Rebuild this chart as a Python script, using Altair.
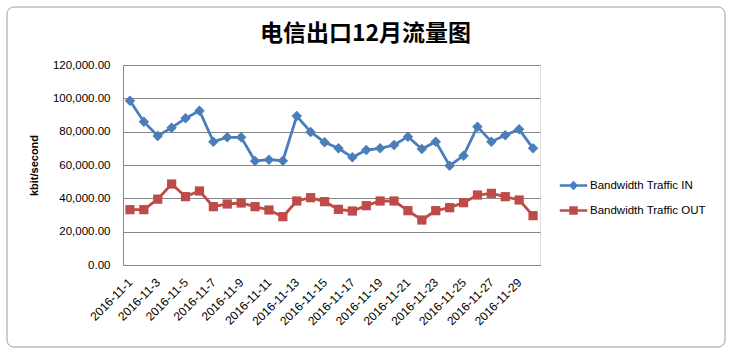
import altair as alt
import pandas as pd

dates = ["2016-11-1", "2016-11-2", "2016-11-3", "2016-11-4", "2016-11-5", "2016-11-6",
         "2016-11-7", "2016-11-8", "2016-11-9", "2016-11-10", "2016-11-11", "2016-11-12",
         "2016-11-13", "2016-11-14", "2016-11-15", "2016-11-16", "2016-11-17", "2016-11-18",
         "2016-11-19", "2016-11-20", "2016-11-21", "2016-11-22", "2016-11-23", "2016-11-24",
         "2016-11-25", "2016-11-26", "2016-11-27", "2016-11-28", "2016-11-29", "2016-11-30"]
label_dates = ["2016-11-1", "2016-11-3", "2016-11-5", "2016-11-7", "2016-11-9", "2016-11-11",
               "2016-11-13", "2016-11-15", "2016-11-17", "2016-11-19", "2016-11-21",
               "2016-11-23", "2016-11-25", "2016-11-27", "2016-11-29"]
traffic_in = [98600, 86000, 77400, 82400, 88000, 92600, 74000, 76600, 76600, 62400,
              63200, 62600, 89400, 79800, 73700, 70000, 64600, 69000, 70000, 72000,
              77000, 69600, 74000, 59600, 65600, 83000, 74000, 77800, 81400, 70000]
traffic_out = [33200, 33200, 39500, 48600, 41000, 44400, 35000, 36600, 37200, 35000,
               33000, 29000, 38400, 40400, 38000, 33400, 32400, 35600, 38400, 38400,
               32600, 27000, 32600, 34400, 37400, 42000, 43000, 41000, 39000, 29600]
series = ["Bandwidth Traffic IN", "Bandwidth Traffic OUT"]
colors = ["#4A7EBB", "#BE4B48"]
y_ticks = [0, 20000, 40000, 60000, 80000, 100000, 120000]

df = pd.DataFrame({
    "date": dates + dates,
    "value": traffic_in + traffic_out,
    "series": [series[0]] * len(dates) + [series[1]] * len(dates),
})

FONT = "Liberation Sans"
GRAY = "#868686"

x_enc = alt.X("date:N", sort=dates, title=None,
              scale=alt.Scale(type="point", padding=0.5),
              axis=alt.Axis(values=label_dates, labelAngle=-45, labelAlign="right",
                            labelBaseline="middle", ticks=False, grid=False,
                            domainColor=GRAY, domainWidth=1, labelFont=FONT,
                            labelFontSize=12, labelColor="#000000", labelPadding=15))
y_enc = alt.Y("value:Q", title="kbit/second",
              scale=alt.Scale(domain=[0, 120000], nice=False),
              axis=alt.Axis(values=y_ticks, format=",.2f", ticks=False, grid=True,
                            gridColor=GRAY, gridWidth=1, domainColor=GRAY,
                            labelFont=FONT, labelFontSize=11.5, labelColor="#000000",
                            labelPadding=13, titleFont=FONT, titleFontSize=11,
                            titleFontWeight="bold", titleColor="#000000", titlePadding=13))

base = alt.Chart(df).encode(x=x_enc, y=y_enc)

# decorative chart-area frame
frame = alt.Chart(pd.DataFrame({"k": [0]})).mark_rect(
    fill=None, stroke="#9c9c9c", strokeWidth=1, cornerRadius=7).encode(
    x=alt.value(-116), x2=alt.value(602), y=alt.value(-58), y2=alt.value(282))

layers = [frame]
shapes = ["diamond", "square"]
sizes = [110, 85]
for name, col, shp, sz in zip(series, colors, shapes, sizes):
    sub = base.transform_filter(alt.datum.series == name)
    layers.append(sub.mark_line(strokeWidth=2.8, color=col))
    layers.append(sub.mark_point(shape=shp, filled=True, size=sz, opacity=1, color=col))

legend_paths = [
    "M-1.1,-0.1L1.1,-0.1L1.1,0.1L-1.1,0.1Z M0,-0.38L0.38,0L0,0.38L-0.38,0Z",
    "M-1.1,-0.1L1.1,-0.1L1.1,0.1L-1.1,0.1Z M-0.34,-0.34L0.34,-0.34L0.34,0.34L-0.34,0.34Z",
]
legend_layer = base.transform_filter("false").mark_point(filled=True, opacity=1).encode(
    color=alt.Color("series:N", scale=alt.Scale(domain=series, range=colors),
                    legend=alt.Legend(title=None, orient="none", legendX=438, legendY=108,
                                      symbolSize=625, labelFont=FONT, labelFontSize=11.5,
                                      labelColor="#000000", labelOffset=4, rowPadding=7,
                                      padding=0, symbolStrokeWidth=0)),
    shape=alt.Shape("series:N", scale=alt.Scale(domain=series, range=legend_paths)),
)
layers.append(legend_layer)

chart = alt.layer(*layers).properties(
    width=417, height=200,
    title=alt.TitleParams("电信出口12月流量图", font="Noto Sans CJK SC", fontSize=23,
                          fontWeight="bold", color="#000000", anchor="middle",
                          frame="group", dx=34, dy=52, offset=13),
    autosize=alt.AutoSizeParams(type="none"),
    padding={"left": 123, "top": 65, "right": 193, "bottom": 89},
).configure_view(stroke=None).configure(background="#ffffff")

chart.save("out.html", embed_options={"renderer": "svg", "actions": False})
